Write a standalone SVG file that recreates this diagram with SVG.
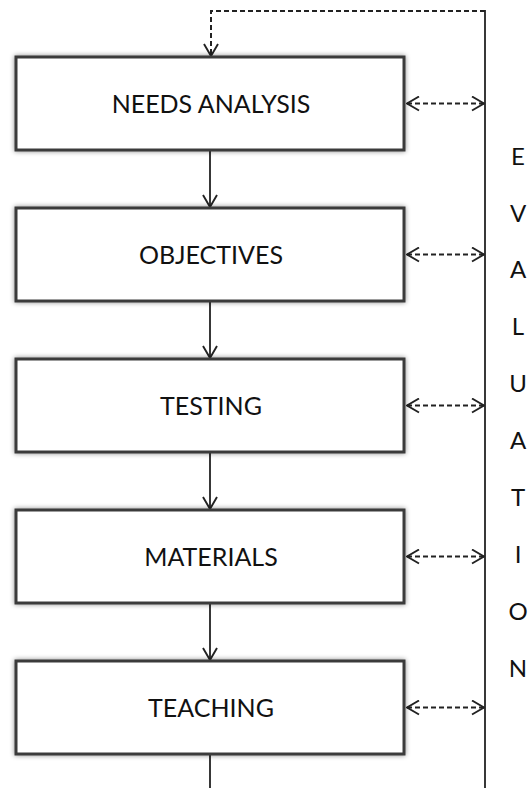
<svg xmlns="http://www.w3.org/2000/svg" width="528" height="788" viewBox="0 0 528 788">
<style>
.box{fill:#fff;stroke:#3a3a3a;stroke-width:3;filter:url(#sh)}
.lbl{font-family:Lato,"Open Sans",sans-serif;font-size:25px;fill:#111;text-anchor:middle}
.ev{font-family:Lato,"Open Sans",sans-serif;font-size:24px;fill:#111;text-anchor:middle}
.solid{stroke:#222;stroke-width:1.8;fill:none}
.dash{stroke:#222;stroke-width:2;fill:none;stroke-dasharray:5 3}
</style>
<defs>
<filter id="sh" x="-10%" y="-20%" width="120%" height="140%">
<feDropShadow dx="0" dy="0" stdDeviation="2.5" flood-color="#000" flood-opacity="0.45"/>
</filter>
<marker id="ah" viewBox="0 0 14 16" refX="13" refY="8" markerWidth="14" markerHeight="16" markerUnits="userSpaceOnUse" orient="auto-start-reverse">
<path d="M1,1 L13,8 L1,15" fill="none" stroke="#222" stroke-width="1.9"/>
</marker>
</defs>
<g id="connectors">
<line class="solid" x1="485" y1="10" x2="485" y2="788"/>
<path class="dash" d="M485,11 H211 V56" marker-end="url(#ah)"/>
<line class="solid" x1="210" y1="150" x2="210" y2="207" marker-end="url(#ah)"/>
<line class="solid" x1="210" y1="301" x2="210" y2="358" marker-end="url(#ah)"/>
<line class="solid" x1="210" y1="452" x2="210" y2="509" marker-end="url(#ah)"/>
<line class="solid" x1="210" y1="603" x2="210" y2="660" marker-end="url(#ah)"/>
<line class="solid" x1="210" y1="754" x2="210" y2="788"/>
<line class="dash" x1="407" y1="103.5" x2="484" y2="103.5" marker-start="url(#ah)" marker-end="url(#ah)"/>
<line class="dash" x1="407" y1="254.5" x2="484" y2="254.5" marker-start="url(#ah)" marker-end="url(#ah)"/>
<line class="dash" x1="407" y1="405.5" x2="484" y2="405.5" marker-start="url(#ah)" marker-end="url(#ah)"/>
<line class="dash" x1="407" y1="556.5" x2="484" y2="556.5" marker-start="url(#ah)" marker-end="url(#ah)"/>
<line class="dash" x1="407" y1="707.5" x2="484" y2="707.5" marker-start="url(#ah)" marker-end="url(#ah)"/>
</g>
<g id="needs-analysis"><rect class="box" x="16" y="57" width="388" height="93"/><text class="lbl" x="211" y="112.5">NEEDS ANALYSIS</text></g>
<g id="objectives"><rect class="box" x="16" y="208" width="388" height="93"/><text class="lbl" x="211" y="263.5">OBJECTIVES</text></g>
<g id="testing"><rect class="box" x="16" y="359" width="388" height="93"/><text class="lbl" x="211" y="414.5">TESTING</text></g>
<g id="materials"><rect class="box" x="16" y="510" width="388" height="93"/><text class="lbl" x="211" y="565.5">MATERIALS</text></g>
<g id="teaching"><rect class="box" x="16" y="661" width="388" height="93"/><text class="lbl" x="211" y="716.5">TEACHING</text></g>
<g id="evaluation">
<text class="ev" x="518" y="165">E</text>
<text class="ev" x="518" y="222">V</text>
<text class="ev" x="518" y="278">A</text>
<text class="ev" x="518" y="335">L</text>
<text class="ev" x="518" y="392">U</text>
<text class="ev" x="518" y="449">A</text>
<text class="ev" x="518" y="506">T</text>
<text class="ev" x="518" y="563">I</text>
<text class="ev" x="518" y="620">O</text>
<text class="ev" x="518" y="677">N</text>
</g>
</svg>
